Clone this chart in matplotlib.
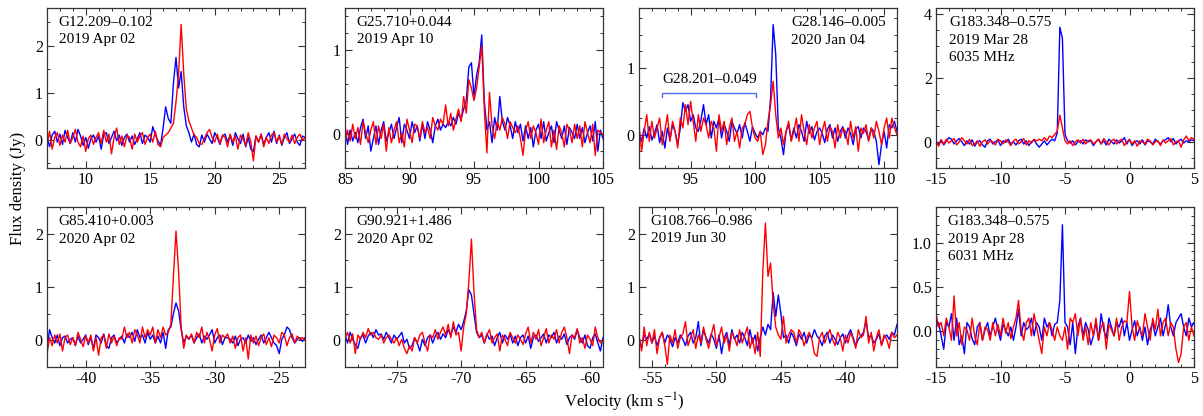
import numpy as np
import matplotlib
matplotlib.use("Agg")
import matplotlib.pyplot as plt
from matplotlib.ticker import MultipleLocator, FormatStrFormatter

plt.rcParams['font.family'] = ['Liberation Serif', 'DejaVu Serif']
plt.rcParams['mathtext.fontset'] = 'stix'
plt.rcParams['axes.unicode_minus'] = False

# velocity ranges (km/s) of the spectra, 101 channels each
v_ranges = [(7, 27), (85, 105), (91, 111), (-15, 5),
            (-43, -23), (-79, -59), (-56, -36), (-15, 5)]

names = ["G12.209\u20130.102\n2019 Apr 02",
         "G25.710+0.044\n2019 Apr 10",
         "G28.146\u20130.005\n2020 Jan 04",
         "G183.348\u20130.575\n2019 Mar 28\n6035 MHz",
         "G85.410+0.003\n2020 Apr 02",
         "G90.921+1.486\n2020 Apr 02",
         "G108.766\u20130.986\n2019 Jun 30",
         "G183.348\u20130.575\n2019 Apr 28\n6031 MHz"]

blue1 = [0.05, -0.15, 0.10, 0.18, -0.05, 0.12, -0.10, 0.20, 0.05, -0.08,
         0.15, -0.05, 0.22, 0.08, -0.12, 0.05, -0.18, 0.02, 0.10, -0.05,
         0.08, -0.20, 0.12, 0.15, -0.08, 0.05, 0.18, -0.02, 0.10, -0.12,
         0.05, 0.12, -0.05, 0.08, -0.10, 0.02, 0.15, -0.08, 0.10, 0.05,
         -0.05, 0.28, 0.10, -0.02, -0.12, 0.25, 0.70, 0.45, 0.35, 1.20,
         1.75, 1.10, 1.45, 0.70, 0.30, 0.15, -0.05, 0.12, -0.10, -0.15,
         0.10, -0.05, 0.12, 0.02, -0.08, 0.15, 0.05, -0.10, 0.08, 0.12,
         -0.05, 0.10, -0.12, 0.15, 0.02, -0.08, 0.12, -0.15, 0.05, -0.20,
         -0.25, 0.08, -0.05, 0.12, -0.10, 0.05, 0.15, -0.05, 0.18, -0.08,
         0.10, -0.12, 0.05, 0.15, -0.08, 0.02, 0.12, -0.05, -0.12, 0.08, 0.05]
red1 = [-0.10, 0.18, -0.20, 0.05, 0.15, -0.12, 0.10, -0.05, 0.20, -0.08,
        0.05, 0.22, -0.05, -0.15, 0.08, -0.25, 0.02, 0.10, -0.10, 0.05,
        0.15, -0.08, 0.20, -0.05, 0.12, -0.30, 0.05, 0.25, -0.10, 0.08,
        -0.15, 0.10, 0.05, -0.20, 0.12, -0.05, 0.08, 0.15, -0.10, 0.05,
        0.12, -0.05, 0.18, -0.10, -0.15, 0.05, 0.10, 0.15, 0.25, 0.35,
        0.80, 1.40, 2.45, 1.40, 0.65, 0.40, 0.25, 0.10, 0.05, -0.08,
        -0.10, 0.02, 0.15, 0.22, 0.05, -0.05, 0.12, -0.08, 0.10, 0.05,
        -0.15, 0.12, -0.05, 0.08, -0.20, 0.10, 0.02, -0.12, 0.15, -0.05,
        -0.45, 0.08, -0.05, 0.12, -0.15, 0.05, -0.08, 0.10, 0.15, -0.05,
        0.08, -0.10, 0.12, 0.02, -0.05, 0.10, -0.08, 0.05, 0.12, -0.02, 0.05]

blue2 = [0.10, -0.12, 0.05, -0.08, 0.02, -0.10, 0.08, 0.18, -0.05, 0.10,
         -0.20, -0.05, 0.10, -0.12, 0.05, 0.15, -0.08, 0.02, 0.12, -0.05,
         0.08, 0.20, -0.10, 0.12, 0.05, -0.05, 0.15, 0.02, 0.10, -0.08,
         0.12, -0.05, 0.15, 0.05, -0.10, 0.10, 0.18, 0.05, 0.12, 0.08,
         0.15, 0.10, 0.20, 0.12, 0.25, 0.18, 0.30, 0.40, 0.80, 0.85,
         0.45, 0.70, 0.85, 1.18, 0.40, 0.05, 0.15, -0.10, 0.20, 0.05,
         0.45, 0.15, 0.05, 0.20, 0.10, -0.05, 0.15, 0.02, 0.12, -0.08,
         0.10, -0.05, 0.08, -0.15, 0.05, 0.12, -0.05, 0.15, -0.08, 0.02,
         0.10, -0.10, 0.15, 0.05, -0.05, 0.10, -0.12, 0.08, 0.02, -0.05,
         0.12, -0.05, 0.08, -0.10, 0.02, 0.10, -0.08, 0.15, -0.20, 0.05, -0.05]
red2 = [-0.10, 0.05, -0.08, 0.12, -0.05, 0.08, -0.12, 0.15, 0.02, -0.10,
        0.05, 0.15, -0.12, 0.10, -0.05, 0.12, -0.20, 0.08, -0.10, 0.05,
        0.15, -0.10, 0.02, -0.15, 0.18, 0.05, -0.10, 0.12, 0.10, -0.05,
        0.15, 0.02, 0.08, -0.05, 0.20, 0.10, 0.05, 0.18, 0.12, 0.35,
        0.10, 0.25, 0.05, 0.18, 0.30, 0.15, 0.45, 0.25, 0.65, 0.55,
        0.40, 0.55, 0.80, 1.05, 0.30, -0.22, 0.50, 0.10, -0.05, 0.15,
        0.05, 0.20, 0.12, -0.05, 0.15, 0.08, 0.02, 0.10, -0.05, -0.25,
        0.05, 0.15, -0.05, 0.10, 0.02, -0.12, 0.18, -0.10, 0.05, 0.15,
        -0.15, 0.05, -0.18, 0.10, 0.02, -0.15, 0.12, 0.05, -0.10, 0.12,
        -0.05, 0.10, -0.15, 0.15, 0.02, -0.10, 0.12, -0.25, 0.05, 0.02, 0.00]

blue3 = [0.05, -0.10, 0.10, -0.05, 0.12, -0.08, 0.02, 0.15, -0.12, 0.05,
         -0.20, 0.10, -0.08, 0.15, 0.05, -0.15, 0.10, 0.48, 0.35, 0.45,
         0.20, 0.30, 0.10, 0.05, 0.22, 0.45, 0.15, 0.30, -0.05, 0.20,
         0.10, 0.25, -0.05, 0.15, 0.05, -0.10, 0.20, 0.10, 0.02, 0.15,
         -0.05, 0.18, 0.05, -0.10, 0.12, 0.02, -0.05, 0.05, 0.00, 0.10,
         0.05, 0.55, 1.65, 1.20, 0.10, -0.05, -0.30, 0.05, 0.15, -0.08,
         0.10, -0.05, 0.15, 0.05, -0.10, 0.20, 0.02, 0.12, -0.08, 0.05,
         0.10, 0.02, -0.12, 0.08, 0.15, -0.05, 0.10, -0.10, 0.05, 0.12,
         -0.05, 0.10, 0.02, -0.15, 0.08, 0.12, -0.05, 0.10, 0.05, -0.08,
         0.10, 0.05, -0.10, -0.45, -0.15, 0.05, -0.20, 0.15, 0.10, 0.20, 0.05]
red3 = [0.15, -0.25, 0.05, 0.30, -0.10, 0.20, -0.05, 0.10, 0.25, -0.15,
        0.05, 0.30, -0.10, 0.20, 0.05, -0.20, 0.25, 0.10, 0.45, 0.15,
        0.50, 0.20, -0.10, 0.30, 0.05, 0.25, 0.15, -0.05, 0.20, 0.10,
        -0.25, 0.30, 0.05, 0.20, -0.15, 0.10, 0.25, -0.10, 0.05, -0.20,
        0.10, 0.15, 0.30, 0.35, 0.10, -0.05, -0.10, 0.05, -0.30, -0.15,
        0.20, 0.45, 0.80, 0.30, -0.05, 0.10, -0.15, 0.05, 0.20, -0.10,
        0.05, 0.25, -0.10, 0.30, 0.05, -0.15, 0.15, -0.05, 0.10, 0.20,
        -0.15, 0.05, 0.20, -0.10, 0.12, 0.05, -0.20, 0.15, -0.05, 0.10,
        0.05, -0.15, 0.20, -0.05, 0.12, -0.25, 0.10, 0.02, 0.15, -0.10,
        0.10, -0.05, 0.20, 0.05, -0.15, 0.10, 0.25, -0.05, 0.25, 0.10, 0.00]

blue4 = [0.02, -0.05, 0.08, -0.08, 0.05, 0.15, 0.10, -0.05, 0.05, 0.12,
         0.02, -0.10, 0.05, -0.05, 0.08, -0.12, 0.02, 0.05, -0.08, -0.15,
         0.05, 0.10, -0.05, 0.02, 0.08, -0.10, 0.05, 0.00, 0.10, -0.05,
         0.02, -0.08, 0.05, 0.10, -0.05, 0.05, -0.10, 0.02, 0.08, -0.05,
         -0.15, -0.05, 0.05, -0.08, 0.02, 0.10, 0.05, 0.30, 3.60, 3.25,
         0.25, 0.05, -0.02, 0.05, -0.08, 0.02, 0.05, -0.05, 0.08, 0.02,
         0.05, -0.10, 0.02, 0.10, -0.05, 0.05, -0.08, 0.10, 0.02, -0.05,
         0.08, -0.02, 0.05, 0.15, -0.05, 0.10, -0.10, 0.02, 0.05, -0.05,
         0.08, -0.08, 0.05, 0.02, -0.05, 0.10, 0.02, -0.05, 0.05, 0.08,
         0.15, 0.02, 0.12, -0.05, 0.05, 0.10, -0.02, 0.05, 0.02, 0.08, 0.05]
red4 = [0.05, -0.12, 0.08, -0.05, 0.10, -0.02, 0.05, 0.12, -0.08, 0.02,
        0.15, 0.05, -0.05, 0.10, -0.10, -0.05, 0.05, -0.12, 0.02, 0.08,
        -0.05, 0.05, 0.02, -0.08, 0.10, 0.05, -0.05, 0.08, 0.02, -0.10,
        0.05, 0.10, -0.05, 0.02, 0.12, -0.08, 0.05, -0.02, 0.10, 0.05,
        0.10, 0.05, 0.15, 0.05, 0.20, 0.15, 0.25, 0.35, 0.85, 0.45,
        0.05, -0.05, 0.05, -0.10, 0.02, 0.08, -0.02, 0.10, -0.05, 0.05,
        0.08, -0.05, 0.02, 0.10, -0.05, 0.12, 0.02, -0.08, 0.05, 0.10,
        -0.05, 0.05, 0.10, -0.10, 0.02, 0.08, -0.05, 0.05, -0.12, 0.05,
        0.02, -0.05, 0.10, 0.05, -0.08, 0.02, 0.05, -0.10, 0.08, -0.02,
        0.05, 0.12, -0.08, 0.02, 0.05, -0.15, 0.08, 0.20, 0.05, 0.15, 0.10]

blue5 = [-0.15, 0.20, 0.05, -0.05, 0.10, -0.10, 0.05, 0.08, -0.05, 0.02,
         0.05, -0.10, 0.08, -0.05, 0.02, 0.10, -0.08, 0.05, -0.15, 0.10,
         0.05, -0.05, 0.12, -0.10, -0.15, 0.05, 0.10, -0.05, 0.02, 0.08,
         -0.05, 0.12, 0.05, 0.15, -0.02, 0.20, 0.05, 0.10, -0.05, 0.15,
         0.02, 0.10, -0.05, 0.08, -0.05, 0.15, -0.15, 0.20, 0.25, 0.50,
         0.70, 0.55, 0.20, -0.05, 0.08, 0.02, 0.10, -0.05, 0.05, 0.12,
         -0.05, 0.08, 0.02, 0.10, 0.20, -0.05, 0.05, 0.10, -0.08, 0.05,
         0.05, 0.02, -0.05, 0.08, -0.10, 0.02, 0.05, -0.05, 0.10, -0.02,
         0.05, -0.08, 0.02, 0.10, -0.05, 0.05, 0.15, 0.05, -0.05, -0.10,
         -0.25, 0.02, 0.10, 0.25, 0.20, 0.05, -0.05, 0.02, 0.05, -0.02, 0.05]
red5 = [-0.25, 0.05, -0.10, 0.10, -0.05, 0.12, -0.20, 0.05, 0.10, -0.08,
        0.05, -0.10, 0.15, 0.02, -0.12, 0.08, -0.05, 0.10, -0.20, 0.05,
        -0.28, 0.05, 0.10, -0.15, 0.12, -0.05, 0.08, -0.10, 0.05, 0.02,
        0.25, 0.05, 0.15, -0.05, 0.20, 0.10, -0.05, 0.25, 0.05, 0.20,
        0.10, 0.25, -0.05, 0.20, 0.05, 0.25, 0.10, 0.15, 0.30, 1.20,
        2.05, 1.30, 0.25, -0.15, 0.10, 0.02, 0.12, -0.05, 0.15, 0.05,
        0.25, -0.05, 0.15, 0.02, -0.20, 0.10, 0.22, -0.05, 0.10, 0.05,
        0.12, -0.05, 0.08, -0.15, 0.05, 0.10, -0.20, 0.05, -0.35, 0.10,
        -0.05, 0.08, -0.10, 0.05, 0.12, -0.08, 0.05, -0.12, 0.10, 0.05,
        -0.05, 0.15, 0.10, -0.10, 0.05, 0.12, -0.05, 0.08, 0.02, 0.05, 0.00]

blue6 = [0.10, -0.05, 0.15, 0.02, -0.08, -0.15, 0.05, 0.10, -0.05, 0.08,
         0.15, 0.05, 0.20, 0.10, 0.12, 0.02, 0.15, 0.05, -0.05, 0.10,
         0.02, 0.08, 0.15, -0.05, 0.02, -0.15, -0.10, 0.05, -0.05, -0.20,
         0.02, -0.10, 0.05, 0.10, -0.05, 0.08, 0.15, 0.02, 0.12, 0.05,
         0.20, 0.10, 0.25, 0.15, 0.30, 0.20, 0.35, 0.55, 0.95, 0.85,
         0.50, 0.15, 0.05, 0.10, -0.05, 0.12, 0.02, 0.08, -0.10, 0.05,
         0.15, -0.05, 0.10, 0.02, 0.12, -0.05, 0.08, -0.10, 0.05, 0.10,
         -0.05, 0.08, -0.15, 0.05, 0.10, -0.02, 0.05, 0.12, -0.05, 0.10,
         0.05, 0.15, -0.05, 0.08, 0.02, 0.12, -0.08, 0.05, 0.10, 0.02,
         0.20, 0.05, -0.05, 0.10, -0.10, -0.15, 0.05, 0.12, -0.05, -0.20, 0.05]
red6 = [0.05, 0.15, -0.05, 0.12, -0.25, 0.10, 0.02, 0.15, 0.05, 0.22,
        0.10, 0.15, 0.05, 0.02, 0.10, -0.05, 0.05, 0.10, 0.02, -0.05,
        0.05, -0.10, 0.02, -0.15, -0.25, -0.10, -0.20, 0.05, -0.05, 0.10,
        0.15, -0.05, -0.20, 0.10, 0.05, 0.20, 0.02, 0.15, 0.25, 0.10,
        0.30, 0.05, 0.35, 0.10, 0.15, -0.20, 0.25, 0.50, 1.10, 1.90,
        0.90, 0.20, 0.05, 0.15, -0.05, 0.10, 0.20, -0.05, 0.05, 0.12,
        -0.20, 0.10, 0.02, -0.10, 0.15, 0.05, -0.05, 0.10, 0.02, -0.08,
        0.12, 0.25, -0.05, 0.15, 0.02, 0.20, -0.10, 0.05, 0.22, -0.05,
        0.10, 0.02, 0.20, -0.05, 0.15, 0.25, 0.05, -0.25, 0.10, 0.05,
        0.22, -0.05, 0.05, -0.15, 0.10, 0.02, -0.10, 0.25, 0.05, -0.05, 0.00]

blue7 = [0.05, -0.15, 0.10, 0.02, 0.12, -0.05, 0.08, -0.10, 0.05, 0.15,
         -0.05, 0.10, 0.02, -0.12, 0.05, -0.05, 0.10, 0.02, -0.10, 0.08,
         0.15, -0.05, 0.05, 0.35, -0.10, 0.20, 0.05, -0.05, 0.12, 0.02,
         -0.15, 0.10, -0.25, 0.05, 0.15, -0.10, 0.20, 0.02, 0.10, -0.05,
         0.15, 0.05, -0.10, 0.20, -0.05, 0.10, -0.20, 0.05, 0.25, 0.10,
         0.30, 0.20, 0.90, 0.45, 0.85, 0.50, 0.05, 0.10, -0.05, 0.15,
         0.05, -0.10, 0.12, 0.02, 0.15, -0.05, 0.10, 0.05, 0.20, 0.08,
         0.02, -0.10, 0.08, 0.15, -0.05, 0.10, 0.02, -0.08, 0.05, 0.12,
         -0.05, 0.10, 0.20, 0.05, -0.10, 0.02, 0.08, 0.15, 0.35, 0.05,
         0.10, -0.05, 0.02, 0.12, -0.08, 0.05, 0.10, 0.02, 0.15, 0.10, 0.30]
red7 = [0.10, -0.20, 0.25, -0.10, 0.15, -0.05, 0.20, -0.25, 0.05, 0.15,
        -0.10, -0.45, 0.10, -0.05, 0.20, -0.15, 0.05, 0.12, 0.35, -0.10,
        0.05, 0.20, -0.15, 0.10, -0.05, 0.25, 0.02, -0.15, 0.10, 0.30,
        -0.10, 0.05, 0.25, -0.05, 0.10, -0.20, 0.15, 0.05, -0.10, 0.20,
        -0.05, 0.10, 0.25, -0.15, 0.05, -0.25, 0.15, -0.30, 1.30, 2.20,
        1.20, 1.45, 0.70, 0.25, 0.10, 0.02, 0.45, -0.05, 0.10, 0.20,
        0.15, -0.05, 0.20, 0.10, -0.10, 0.05, 0.15, 0.02, -0.25, -0.30,
        0.05, 0.15, -0.05, 0.10, 0.20, 0.02, -0.10, 0.15, 0.05, -0.20,
        0.10, -0.05, 0.15, 0.02, -0.15, 0.20, 0.05, 0.10, 0.45, -0.05,
        0.15, -0.20, 0.05, 0.20, -0.10, 0.10, 0.02, -0.15, 0.15, 0.05, 0.10]

blue8 = [0.05, 0.10, -0.05, -0.20, 0.10, 0.05, 0.20, -0.10, 0.15, -0.15,
         -0.05, -0.25, 0.10, 0.05, -0.08, -0.15, 0.05, 0.10, -0.10, 0.02,
         0.10, -0.05, 0.05, 0.15, 0.02, -0.10, 0.08, 0.02, -0.05, 0.05,
         -0.10, 0.05, 0.25, -0.05, 0.10, 0.02, 0.05, 0.15, -0.05, 0.10,
         0.05, -0.10, 0.15, 0.05, 0.10, -0.05, 0.08, 0.10, 0.35, 1.20,
         0.10, 0.05, -0.15, 0.10, -0.25, 0.05, 0.15, -0.05, 0.10, 0.02,
         -0.15, -0.05, 0.10, -0.10, 0.20, 0.02, -0.08, 0.15, 0.05, -0.05,
         0.10, 0.05, 0.15, -0.05, 0.10, -0.10, 0.02, 0.12, -0.05, 0.05,
         -0.10, 0.05, -0.15, 0.02, 0.10, -0.05, 0.05, 0.15, -0.05, 0.08,
         0.30, 0.05, -0.05, 0.10, 0.15, 0.20, 0.05, -0.05, 0.15, 0.05, 0.10]
red8 = [0.20, 0.05, 0.10, -0.05, 0.15, 0.05, -0.10, 0.40, -0.05, 0.10,
        -0.15, 0.05, 0.02, -0.10, 0.15, -0.05, -0.15, 0.10, -0.10, 0.05,
        0.02, -0.10, 0.10, -0.05, 0.08, -0.05, 0.15, -0.02, 0.10, -0.08,
        0.05, 0.15, 0.35, 0.02, -0.10, 0.10, 0.15, -0.05, 0.20, 0.05,
        -0.10, -0.25, 0.05, -0.05, 0.10, 0.02, -0.10, 0.05, -0.05, -0.10,
        0.05, -0.20, 0.15, 0.10, 0.20, -0.05, 0.15, -0.10, 0.05, -0.15,
        0.10, -0.05, 0.15, -0.10, 0.05, 0.10, -0.20, 0.08, 0.02, -0.05,
        0.15, -0.10, 0.05, 0.12, 0.10, 0.45, 0.05, -0.10, 0.12, 0.02,
        -0.05, 0.20, 0.05, -0.10, 0.15, 0.02, 0.25, -0.05, 0.10, 0.15,
        -0.05, 0.10, 0.05, -0.20, -0.35, -0.25, 0.05, 0.10, -0.10, 0.05, -0.05]

blues = [blue1, blue2, blue3, blue4, blue5, blue6, blue7, blue8]
reds = [red1, red2, red3, red4, red5, red6, red7, red8]

# axis styling per panel
ylims = [(-0.6, 2.8), (-0.4, 1.5), (-0.5, 1.9), (-0.8, 4.2),
         (-0.5, 2.5), (-0.5, 2.5), (-0.5, 2.5), (-0.4, 1.4)]
ymajor = [1, 1, 1, 2, 1, 1, 1, 0.5]
yminor = [0.5, 0.2, 0.25, 0.5, 0.5, 0.5, 0.5, 0.1]
text_x = [0.045, 0.045, 0.59, 0.05, 0.045, 0.045, 0.045, 0.045]

W, H = 1203, 416
fig = plt.figure(figsize=(W / 100, H / 100), dpi=100)
lefts = [47, 345, 639, 936]
tops = [8, 207]
aw, ah = 258, 160

for k in range(8):
    r, c = divmod(k, 4)
    ax = fig.add_axes([lefts[c] / W, (H - tops[r] - ah) / H, aw / W, ah / H])
    v0, v1 = v_ranges[k]
    vel = np.linspace(v0, v1, len(blues[k]))
    ax.plot(vel, blues[k], color='#0000ff', lw=1.0)
    ax.plot(vel, reds[k], color='#ff0000', lw=1.0)
    ax.set_xlim(v0, v1)
    ax.set_ylim(*ylims[k])
    ax.xaxis.set_major_locator(MultipleLocator(5))
    ax.xaxis.set_minor_locator(MultipleLocator(1))
    ax.yaxis.set_major_locator(MultipleLocator(ymajor[k]))
    ax.yaxis.set_minor_locator(MultipleLocator(yminor[k]))
    if k == 7:
        ax.yaxis.set_major_formatter(FormatStrFormatter('%.1f'))
    ax.tick_params(which='both', direction='in', top=True, right=True,
                   labelsize=11.5, color='#333333')
    ax.tick_params(which='major', length=5, width=0.8, pad=3)
    ax.tick_params(which='minor', length=2.5, width=0.7)
    for s in ax.spines.values():
        s.set_linewidth(0.9)
        s.set_color('#333333')
    ax.text(text_x[k], 0.95, names[k], transform=ax.transAxes, va='top',
            ha='left', fontsize=11, linespacing=1.45)
    if k == 2:
        ax.plot([92.8, 92.8, 100.1, 100.1], [0.56, 0.63, 0.63, 0.56],
                color='#4f6fe8', lw=1.0)
        ax.text(96.45, 0.73, "G28.201\u20130.049", ha='center', va='bottom',
                fontsize=11)

fig.text(18 / W, 1 - 188 / H, "Flux density (Jy)", rotation=90, ha='center',
         va='center', fontsize=12)
fig.text(624 / W, 1 - 402 / H, "Velocity (km s$^{-1}$)", ha='center',
         va='center', fontsize=12)

fig.savefig("out.png", dpi=100)
